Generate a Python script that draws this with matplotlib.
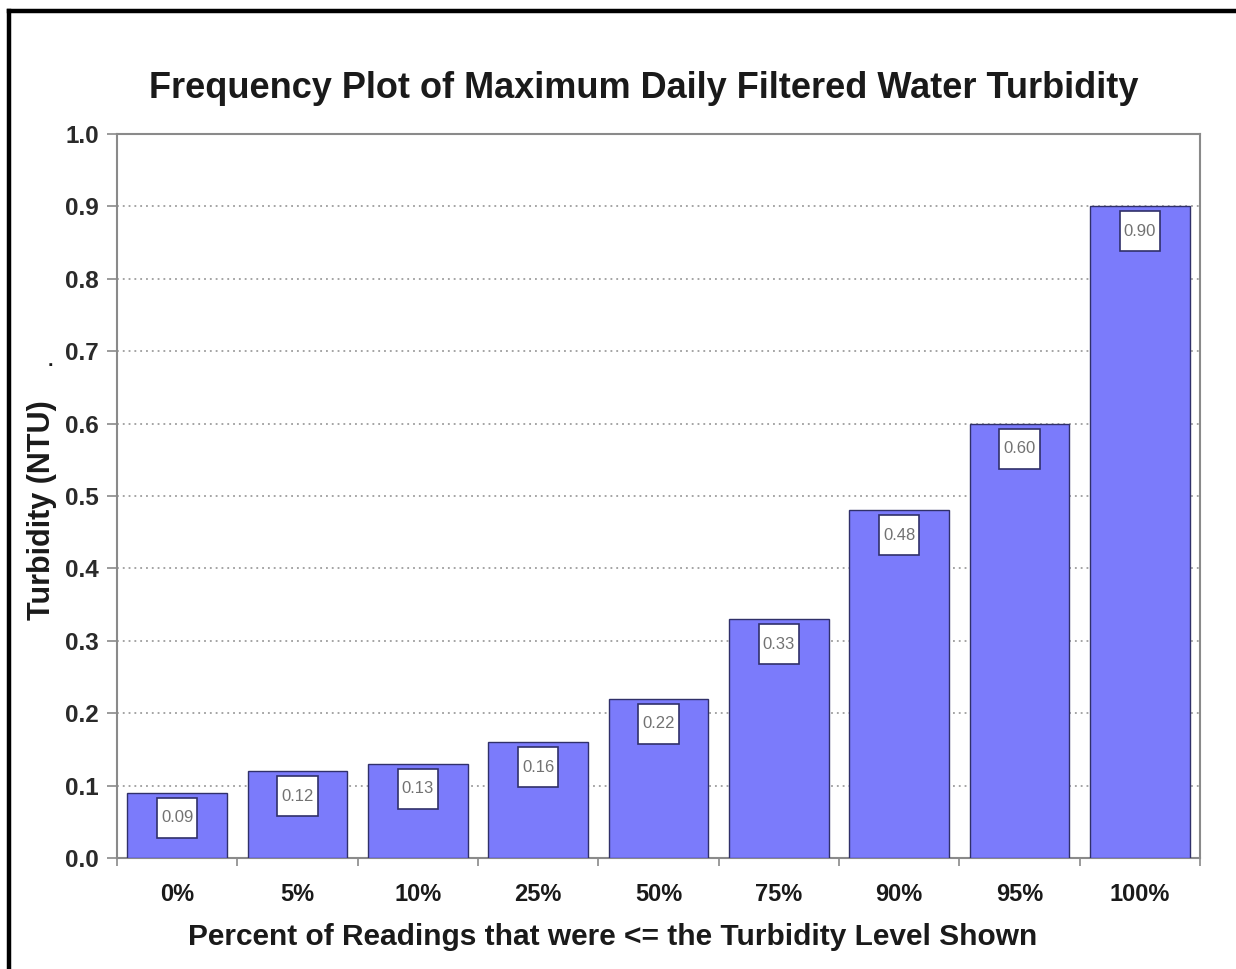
import matplotlib
matplotlib.use("Agg")
import matplotlib.pyplot as plt
from matplotlib.lines import Line2D
from matplotlib.path import Path
import numpy as np

# percentile buckets and the max daily filtered-water turbidity at each
percent_labels = ["0%", "5%", "10%", "25%", "50%", "75%", "90%", "95%", "100%"]
turbidity_ntu = [0.09, 0.12, 0.13, 0.16, 0.22, 0.33, 0.48, 0.60, 0.90]
y_ticks = [0.0, 0.1, 0.2, 0.3, 0.4, 0.5, 0.6, 0.7, 0.8, 0.9, 1.0]

BAR = "#7B7BFB"
EDGE = "#30306A"
AXIS = "#8A8A8A"
TXT = "#1A1A1A"

plt.rcParams["font.family"] = ["Liberation Sans", "DejaVu Sans"]


def tag_box(x0, y0, width, height, mutation_size):
    # tall, narrow box around the value text (tight sides, roomy top/bottom)
    px = 0.24 * mutation_size
    py = 0.75 * mutation_size
    x0, x1 = x0 - px, x0 + width + px
    y0, y1 = y0 - py, y0 + height + py
    return Path([(x0, y0), (x1, y0), (x1, y1), (x0, y1), (x0, y0)],
                closed=True)


fig = plt.figure(figsize=(12.36, 9.69), dpi=100)
ax = fig.add_axes([0.0947, 0.1146, 0.8762, 0.7471])

x = np.arange(len(percent_labels))
ax.bar(x, turbidity_ntu, width=0.83, color=BAR, edgecolor=EDGE,
       linewidth=1.0, zorder=3)

# value tags sitting just inside the top of each bar
for xi, v in zip(x, turbidity_ntu):
    ax.annotate("%.2f" % v, xy=(xi, v), xytext=(0, -18),
                textcoords="offset points", ha="center", va="center",
                fontsize=12, color="#727272", zorder=5,
                bbox=dict(boxstyle=tag_box, fc="white", ec=EDGE, lw=1.2))

ax.set_xlim(-0.5, len(percent_labels) - 0.5)
ax.set_ylim(0, 1.0)
ax.set_yticks(y_ticks)
ax.set_yticklabels(["%.1f" % t for t in y_ticks])
ax.set_xticks(x)
ax.set_xticklabels(percent_labels)
ax.set_xticks(np.arange(len(percent_labels) + 1) - 0.5, minor=True)

ax.tick_params(axis="x", which="major", length=0, pad=18,
               labelsize=17, labelcolor=TXT)
ax.tick_params(axis="x", which="minor", length=6, width=1.2, color=AXIS,
               direction="out")
ax.tick_params(axis="y", length=7, width=1.2, color=AXIS, pad=6,
               labelsize=17.5, labelcolor="#2A2A2A")
for lab in ax.get_xticklabels() + ax.get_yticklabels():
    lab.set_fontweight("bold")

ax.yaxis.grid(True, color="#8C8C8C", linestyle=(0, (1.2, 2.6)),
              linewidth=1.1, zorder=0)
ax.set_axisbelow(True)
for sp in ax.spines.values():
    sp.set_color(AXIS)
    sp.set_linewidth(1.5)

ax.set_xlabel("Percent of Readings that were <= the Turbidity Level Shown",
              fontsize=21.5, fontweight="bold", color=TXT)
ax.xaxis.set_label_coords(0.458, -0.109)
ax.xaxis.label.set_va("center")
ax.set_ylabel("Turbidity (NTU)", fontsize=22, fontweight="bold", color=TXT)
ax.yaxis.set_label_coords(-0.069, 0.48)
ax.yaxis.label.set_va("center")

fig.text(644 / 1236, 1 - 88 / 969,
         "Frequency Plot of Maximum Daily Filtered Water Turbidity",
         ha="center", va="center", fontsize=26, fontweight="bold", color=TXT)
fig.text(50 / 1236, 1 - 362 / 969, ".", ha="center", va="center",
         fontsize=14, fontweight="bold", color=TXT)

# outer frame: only the top and left edges survive in this crop
fig.add_artist(Line2D([9 / 1236, 1.0], [1 - 11 / 969, 1 - 11 / 969],
                      color="black", lw=3.2, transform=fig.transFigure))
fig.add_artist(Line2D([9 / 1236, 9 / 1236], [0.0, 1 - 11 / 969],
                      color="black", lw=3.2, transform=fig.transFigure))

fig.savefig("out.png", dpi=100)
